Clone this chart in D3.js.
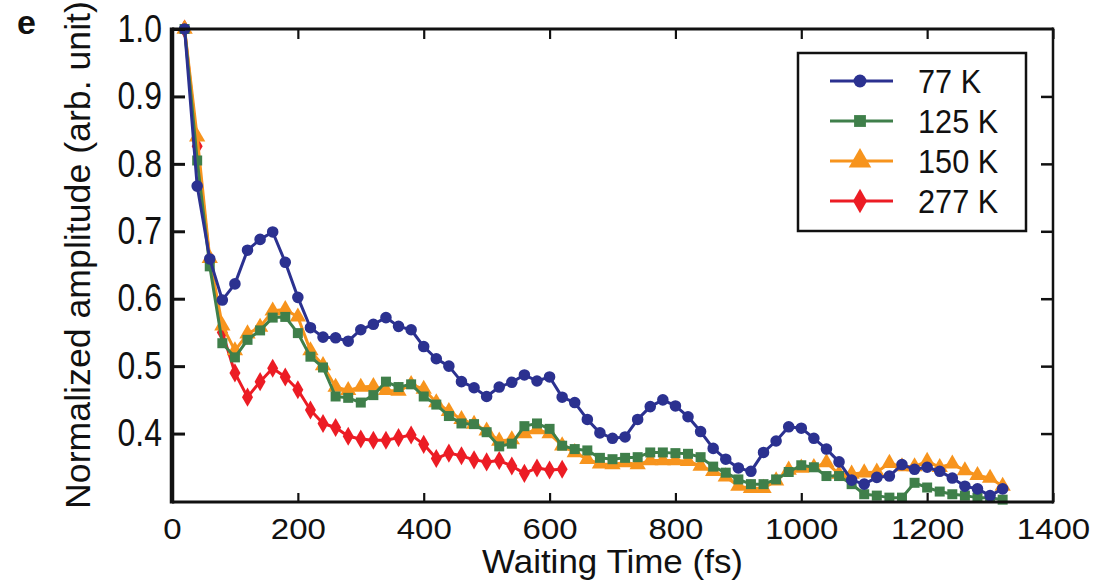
<!DOCTYPE html>
<html>
<head>
<meta charset="utf-8">
<script src="https://cdn.jsdelivr.net/npm/d3@7"></script>
<style>
  body { margin: 0; background: #fff; }
  text { font-family: "Liberation Sans", Arial, sans-serif; fill: #111; }
</style>
</head>
<body>
<div id="chart"></div>
<script>
// waiting time axis (fs), one point every 20 fs
const times = d3.range(20, 1321, 20);

const amp77 = [1.0, 0.767, 0.659, 0.598, 0.622, 0.672, 0.688, 0.699, 0.654, 0.602,
  0.557, 0.543, 0.542, 0.537, 0.554, 0.562, 0.572, 0.559, 0.554, 0.529,
  0.511, 0.500, 0.477, 0.468, 0.455, 0.469, 0.476, 0.487, 0.478, 0.484,
  0.454, 0.446, 0.421, 0.401, 0.393, 0.395, 0.421, 0.440, 0.450, 0.441,
  0.425, 0.403, 0.378, 0.362, 0.349, 0.344, 0.372, 0.389, 0.410, 0.408,
  0.393, 0.377, 0.358, 0.331, 0.325, 0.335, 0.337, 0.354, 0.347, 0.350,
  0.344, 0.334, 0.322, 0.318, 0.308, 0.318];

const amp125 = [1.0, 0.805, 0.648, 0.534, 0.513, 0.539, 0.553, 0.572, 0.573, 0.549,
  0.514, 0.498, 0.455, 0.453, 0.446, 0.457, 0.477, 0.469, 0.473, 0.455,
  0.443, 0.426, 0.415, 0.414, 0.402, 0.381, 0.385, 0.411, 0.415, 0.407,
  0.382, 0.377, 0.375, 0.364, 0.362, 0.364, 0.365, 0.372, 0.372, 0.371,
  0.370, 0.365, 0.351, 0.342, 0.332, 0.325, 0.325, 0.332, 0.343, 0.353,
  0.350, 0.337, 0.337, 0.325, 0.310, 0.308, 0.305, 0.305, 0.327, 0.320,
  0.314, 0.310, 0.308, 0.305, 0.305, 0.302];

const amp150 = [1.0, 0.840, 0.660, 0.560, 0.523, 0.548, 0.558, 0.582, 0.584, 0.573,
  0.523, 0.501, 0.469, 0.464, 0.469, 0.470, 0.464, 0.463, 0.473, 0.466,
  0.446, 0.433, 0.421, 0.414, 0.404, 0.389, 0.391, 0.400, 0.406, 0.400,
  0.382, 0.372, 0.362, 0.355, 0.354, 0.357, 0.354, 0.360, 0.360, 0.360,
  0.359, 0.352, 0.344, 0.336, 0.322, 0.319, 0.319, 0.330, 0.346, 0.349,
  0.350, 0.357, 0.340, 0.340, 0.342, 0.343, 0.356, 0.351, 0.351, 0.359,
  0.350, 0.355, 0.345, 0.338, 0.334, 0.322];

const amp277 = [1.0, 0.826, 0.655, 0.550, 0.490, 0.454, 0.477, 0.497, 0.484, 0.465,
  0.435, 0.415, 0.409, 0.396, 0.392, 0.390, 0.390, 0.394, 0.398, 0.384,
  0.363, 0.371, 0.367, 0.361, 0.358, 0.360, 0.352, 0.341, 0.349, 0.346,
  0.347];

const seriesNames = ["77 K", "125 K", "150 K", "277 K"];
const xTicks = [0, 200, 400, 600, 800, 1000, 1200, 1400];
const yTicks = [0.4, 0.5, 0.6, 0.7, 0.8, 0.9, 1.0];

const width = 1110;
const height = 582;
const margin = { top: 29, right: 57, bottom: 81, left: 172 };

const series = [
  { name: seriesNames[3], values: amp277, color: "#ec1c24", symbol: d3.symbolDiamond, size: 105, legendSize: 170 },
  { name: seriesNames[2], values: amp150, color: "#f7941d", symbol: d3.symbolTriangle, size: 115, legendSize: 220 },
  { name: seriesNames[1], values: amp125, color: "#3f7f4a", symbol: d3.symbolSquare, size: 100, legendSize: 140 },
  { name: seriesNames[0], values: amp77, color: "#2b3190", symbol: d3.symbolCircle, size: 105, legendSize: 130 }
];

const xScale = d3.scaleLinear().domain([0, 1400]).range([margin.left, width - margin.right]);
const yScale = d3.scaleLinear().domain([0.3, 1.0]).range([height - margin.bottom, margin.top]);

const svg = d3.select("#chart").append("svg")
  .attr("width", width)
  .attr("height", height);

svg.append("rect").attr("width", width).attr("height", height).attr("fill", "#fff");

// panel letter
svg.append("text")
  .attr("x", 17).attr("y", 34)
  .attr("font-size", 34).attr("font-weight", "bold")
  .text("e");

const line = d3.line()
  .x((d, i) => xScale(times[i]))
  .y(d => yScale(d));

// series, red first so blue ends on top
series.forEach(s => {
  const g = svg.append("g");
  g.append("path").datum(s.values)
    .attr("fill", "none")
    .attr("stroke", s.color)
    .attr("stroke-width", 3)
    .attr("stroke-linejoin", "round")
    .attr("d", line);
  g.selectAll("path.mark")
    .data(s.values)
    .join("path")
      .attr("class", "mark")
      .attr("transform", (d, i) => `translate(${xScale(times[i])},${yScale(d)})`)
      .attr("d", d3.symbol().type(s.symbol).size(s.size))
      .attr("fill", s.color);
});

// axes: inward ticks
const xAxis = d3.axisBottom(xScale).tickValues(xTicks).tickSize(-9).tickPadding(16).tickFormat(d3.format("d"));
const gx = svg.append("g")
  .attr("transform", `translate(0,${yScale(0.3) + 1})`)
  .call(xAxis);
gx.select(".domain").remove();
gx.selectAll("line").attr("stroke", "#111").attr("stroke-width", 2.2);
gx.selectAll("text").attr("font-size", 30).attr("fill", "#111").attr("transform", "scale(1.1,1)");

const gxTop = svg.append("g")
  .attr("transform", `translate(0,${margin.top})`)
  .call(d3.axisTop(xScale).tickValues(xTicks).tickSize(-10).tickFormat(""));
gxTop.select(".domain").remove();
gxTop.selectAll("line").attr("stroke", "#111").attr("stroke-width", 2.2);

const yAxis = d3.axisLeft(yScale).tickValues(yTicks).tickSize(-13).tickPadding(12).tickFormat(d3.format(".1f"));
const gy = svg.append("g")
  .attr("transform", `translate(${margin.left},0)`)
  .call(yAxis);
gy.select(".domain").remove();
gy.selectAll("line").attr("stroke", "#111").attr("stroke-width", 3);
gy.selectAll("text").attr("font-size", 38).attr("fill", "#111").attr("transform", "scale(0.84,1)");

const gyRight = svg.append("g")
  .attr("transform", `translate(${width - margin.right},0)`)
  .call(d3.axisRight(yScale).tickValues(yTicks.filter(d => d < 1)).tickSize(-12).tickFormat(""));
gyRight.select(".domain").remove();
gyRight.selectAll("line").attr("stroke", "#111").attr("stroke-width", 2.5);

// frame
const x0 = xScale(0), x1 = xScale(1400), y0 = yScale(1.0), y1 = yScale(0.3) + 1;
svg.append("line").attr("x1", x0).attr("x2", x1).attr("y1", y0).attr("y2", y0).attr("stroke", "#111").attr("stroke-width", 3);
svg.append("line").attr("x1", x0).attr("x2", x1).attr("y1", y1).attr("y2", y1).attr("stroke", "#111").attr("stroke-width", 3);
svg.append("line").attr("x1", x0).attr("x2", x0).attr("y1", y0 - 1.5).attr("y2", y1 + 1.5).attr("stroke", "#111").attr("stroke-width", 4.5);
svg.append("line").attr("x1", x1).attr("x2", x1).attr("y1", y0 - 1.5).attr("y2", y1 + 1.5).attr("stroke", "#111").attr("stroke-width", 2.5);

// axis titles
svg.append("text")
  .attr("transform", `translate(${(x0 + x1) / 2},573) scale(1.06,1)`)
  .attr("text-anchor", "middle")
  .attr("font-size", 33)
  .text("Waiting Time (fs)");

svg.append("text")
  .attr("transform", `translate(90,255) rotate(-90) scale(1.02,1)`)
  .attr("text-anchor", "middle")
  .attr("font-size", 35)
  .text("Normalized amplitude (arb. unit)");

// legend
const legend = svg.append("g").attr("transform", "translate(798,53)");
legend.append("rect")
  .attr("width", 228).attr("height", 178)
  .attr("fill", "#fff").attr("stroke", "#111").attr("stroke-width", 2.5);

const legendItems = series.slice().reverse();
const row = legend.selectAll("g.item")
  .data(legendItems)
  .join("g")
    .attr("class", "item")
    .attr("transform", (d, i) => `translate(0,${28 + i * 40})`);
row.append("line")
  .attr("x1", 32).attr("x2", 95)
  .attr("stroke", d => d.color).attr("stroke-width", 3);
row.append("path")
  .attr("transform", "translate(62,0)")
  .attr("d", d => d3.symbol().type(d.symbol).size(d.legendSize)())
  .attr("fill", d => d.color);
row.append("text")
  .attr("transform", "translate(120,12) scale(0.93,1)")
  .attr("font-size", 33)
  .text(d => d.name);
</script>
</body>
</html>
